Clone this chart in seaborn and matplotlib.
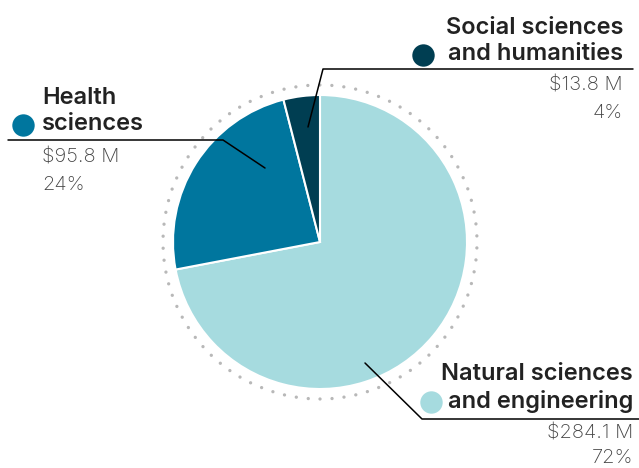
import matplotlib
matplotlib.use("Agg")
import matplotlib.pyplot as plt
import seaborn as sns
from matplotlib.patches import Circle

# data
categories = ["Natural sciences\nand engineering", "Health\nsciences", "Social sciences\nand humanities"]
amounts = [284.1, 95.8, 13.8]           # $ M
shares = [72, 24, 4]                    # %
colors = ["#a6dbdf", "#00769e", "#003e52"]

sns.set_theme(style="white")
plt.rcParams['font.family'] = ['Inter', 'DejaVu Sans']

W, H = 639, 468
fig = plt.figure(figsize=(W / 100, H / 100), dpi=100)
ax = fig.add_axes([0, 0, 1, 1])
ax.set_xlim(0, W)
ax.set_ylim(0, H)
ax.axis('off')


def Y(y):
    return H - y


cx, cy, r = 320, 242, 147

# dotted ring
ring = Circle((cx, Y(cy)), 157, fill=False, edgecolor="#b8b8b8", linewidth=2.4,
              linestyle=(0, (0.01, 3.6)), capstyle='round')
ax.add_patch(ring)

ax.pie(shares, colors=colors, startangle=90, counterclock=False,
       center=(cx, Y(cy)), radius=r,
       wedgeprops=dict(edgecolor="white", linewidth=1.5))
ax.set_xlim(0, W)
ax.set_ylim(0, H)
ax.set_aspect('equal')

lab_kw = dict(fontsize=17, fontweight='semibold', color="#222222", va='center', linespacing=1.25)
val_kw = dict(fontsize=14.5, fontweight='light', color="#444444", va='center')

# leader lines
ax.plot([8, 223, 265], [Y(140), Y(140), Y(168)], color="black", lw=1.1)
ax.plot([633, 323, 308], [Y(69), Y(69), Y(127)], color="black", lw=1.1)
ax.plot([639, 422, 365], [Y(419), Y(419), Y(363)], color="black", lw=1.1)

# Health
ax.scatter([23], [Y(125)], s=260, color=colors[1], zorder=5, linewidths=0)
ax.text(42, Y(111), categories[1], ha='left', **lab_kw)
ax.text(42, Y(157), f"${amounts[1]:.1f} M", ha='left', **val_kw)
ax.text(42, Y(185), f"{shares[1]}%", ha='left', **val_kw)

# Social
ax.scatter([423], [Y(55)], s=260, color=colors[2], zorder=5, linewidths=0)
ax.text(623, Y(41), categories[2], ha='right', multialignment='right', **lab_kw)
ax.text(623, Y(86), f"${amounts[2]:.1f} M", ha='right', **val_kw)
ax.text(623, Y(113), f"{shares[2]}%", ha='right', **val_kw)

# Natural
ax.scatter([431], [Y(402)], s=260, color=colors[0], zorder=5, linewidths=0)
ax.text(633, Y(388), categories[0], ha='right', multialignment='right', **lab_kw)
ax.text(633, Y(433), f"${amounts[0]:.1f} M", ha='right', **val_kw)
ax.text(633, Y(458), f"{shares[0]}%", ha='right', **val_kw)

fig.savefig("out.png", dpi=100)
